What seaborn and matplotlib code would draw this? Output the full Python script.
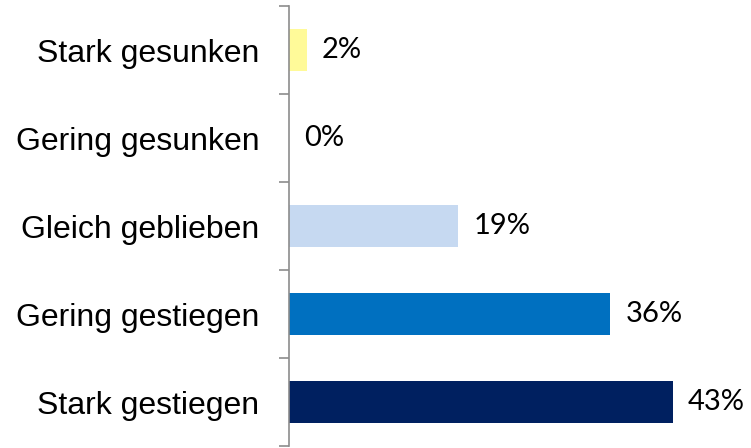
import seaborn as sns
from matplotlib import pyplot as plt
import pandas as pd

categories = ['Stark gesunken', 'Gering gesunken', 'Gleich geblieben',
              'Gering gestiegen', 'Stark gestiegen']
values = [2, 0, 19, 36, 43]
colors = ['#FFFA99', '#C6D9F1', '#C6D9F1', '#0070C0', '#002060']


def main():
    df = pd.DataFrame({'kategorie': categories, 'anteil': values})
    fig = plt.figure(figsize=(7.51, 4.48), dpi=100)
    ax = fig.add_axes([289 / 751, 2 / 448, 446 / 751, 440 / 448])
    sns.barplot(data=df, y='kategorie', x='anteil', hue='kategorie',
                palette=colors, order=categories, hue_order=categories,
                width=0.48, saturation=1, legend=False, ax=ax)
    ax.set_xlim(0, 50)
    ax.set_ylim(len(categories) - 0.5, -0.5)
    ax.set_xlabel('')
    ax.set_ylabel('')
    ax.set_xticks([])

    # ticks sit between categories, labels in the middle
    ax.set_yticks([i - 0.5 for i in range(len(categories) + 1)])
    ax.set_yticklabels([])
    ax.set_yticks(range(len(categories)), minor=True)
    ax.set_yticklabels(categories, minor=True, fontsize=23,
                       family='Liberation Sans')
    ax.tick_params(axis='y', which='major', length=7.2, width=1.2,
                   color='#8C8C8C')
    ax.tick_params(axis='y', which='minor', length=0, pad=21.5)

    for s in ['top', 'right', 'bottom']:
        ax.spines[s].set_visible(False)
    ax.spines['left'].set_color('#8C8C8C')
    ax.spines['left'].set_linewidth(1.2)

    for i, v in enumerate(values):
        ax.annotate(f'{v}%', (v, i), xytext=(11, 0), textcoords='offset points',
                    va='center', ha='left', fontsize=21, family='Lato')

    fig.savefig('out.png')


if __name__ == '__main__':
    main()
